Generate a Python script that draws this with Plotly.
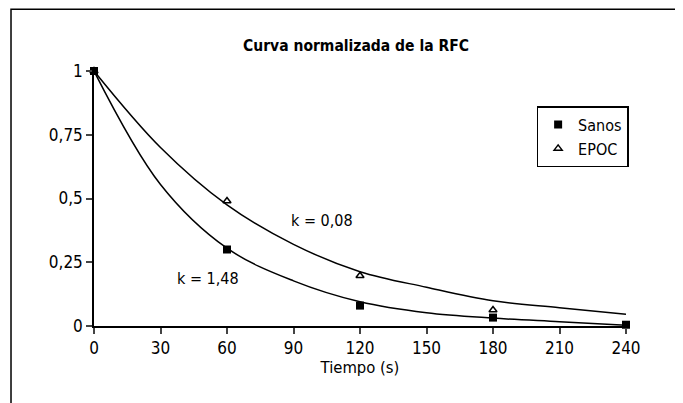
import plotly.graph_objects as go

# 数据点
tiempo_sanos = [0, 60, 120, 180, 240]
rfc_sanos = [1.0, 0.30, 0.08, 0.033, 0.005]
tiempo_epoc = [0, 60, 120, 180]
rfc_epoc = [1.0, 0.49, 0.197, 0.063]

# 拟合曲线
curva_x = [0, 30, 60, 90, 120, 150, 180, 210, 240]
curva_sanos = [1.0, 0.555, 0.305, 0.177, 0.095, 0.052, 0.031, 0.017, 0.003]
curva_epoc = [1.0, 0.70, 0.475, 0.32, 0.213, 0.152, 0.099, 0.072, 0.046]

x_ticks = [0, 30, 60, 90, 120, 150, 180, 210, 240]
y_ticks = [0, 0.25, 0.5, 0.75, 1]
y_ticktext = ["0", "0,25", "0,5", "0,75", "1"]

FONT = "Liberation Sans Narrow, Arial Narrow, DejaVu Sans Condensed, sans-serif"

fig = go.Figure()

fig.add_trace(go.Scatter(
    x=curva_x, y=curva_epoc, mode="lines", line_shape="spline",
    line=dict(color="black", width=1.5), showlegend=False, hoverinfo="skip",
))
fig.add_trace(go.Scatter(
    x=curva_x, y=curva_sanos, mode="lines", line_shape="spline",
    line=dict(color="black", width=1.5), showlegend=False, hoverinfo="skip",
))
fig.add_trace(go.Scatter(
    x=tiempo_epoc, y=rfc_epoc, mode="markers", name="EPOC",
    marker=dict(symbol="triangle-up-open", size=7, color="black",
                line=dict(width=1.5, color="black")),
    cliponaxis=False,
))
fig.add_trace(go.Scatter(
    x=tiempo_sanos, y=rfc_sanos, mode="markers", name="Sanos",
    marker=dict(symbol="square", size=8, color="black"),
    cliponaxis=False,
))

fig.add_annotation(x=103, y=0.415, text="k = 0,08", showarrow=False,
                   font=dict(family=FONT, size=16, color="black"))
fig.add_annotation(x=51.5, y=0.185, text="k = 1,48", showarrow=False,
                   font=dict(family=FONT, size=16, color="black"))

# 外框
fig.add_shape(type="rect", xref="paper", yref="paper",
              x0=-0.156, x1=1.0996, y0=-0.35, y1=1.2417,
              line=dict(color="black", width=1.5), fillcolor="rgba(0,0,0,0)")

# 页面 body 有 8px 边距，整体尺寸相应缩小
fig.update_layout(
    width=675, height=395,
    margin=dict(l=86, r=57, t=63, b=77),
    paper_bgcolor="white", plot_bgcolor="white",
    font=dict(family=FONT, size=17, color="black"),
    title=dict(text="<b>Curva normalizada de la RFC</b>", x=0.5156, xanchor="center",
               y=0.906, yanchor="middle", font=dict(family=FONT, size=15.5)),
    legend=dict(x=0.832, y=0.862, xanchor="left", yanchor="top",
                bordercolor="black", borderwidth=1.5, bgcolor="white",
                traceorder="reversed", itemwidth=30, tracegroupgap=0,
                font=dict(family=FONT, size=16)),
    showlegend=True,
)
fig.update_xaxes(
    range=[0, 240], tickvals=x_ticks, ticks="outside", ticklen=6, tickwidth=1.5,
    showline=True, linecolor="black", linewidth=1.5, showgrid=False, zeroline=False,
    tickfont=dict(size=17),
    title=dict(text="Tiempo (s)", standoff=2, font=dict(family=FONT, size=16.5)),
)
fig.update_yaxes(
    range=[0, 1], tickvals=y_ticks, ticktext=y_ticktext, ticks="outside",
    ticklen=6, tickwidth=1.5, showline=True, linecolor="black", linewidth=1.5,
    showgrid=False, zeroline=False, tickfont=dict(size=17),
)

fig.write_html("out.html")
